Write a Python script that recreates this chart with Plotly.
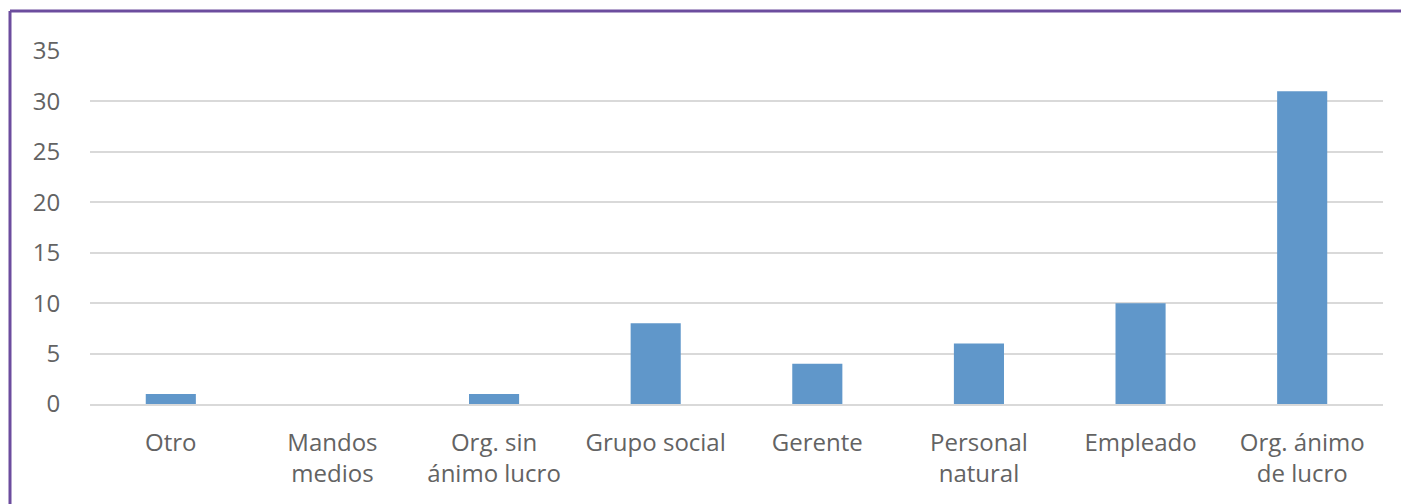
import plotly.graph_objects as go

categories = ["Otro", "Mandos<br>medios", "Org. sin<br>ánimo lucro", "Grupo social",
              "Gerente", "Personal<br>natural", "Empleado", "Org. ánimo<br>de lucro"]
values = [1, 0, 1, 8, 4, 6, 10, 31]
y_ticks = [0, 5, 10, 15, 20, 25, 30, 35]

# page body has an 8px margin; compensate so the plot lands where the reference has it
OFF = 8
W, H = 1409, 504
PL, PR, PT, PB = 90, 1383, 51, 404   # target plot area in page pixels
L = PL - OFF
T = PT - OFF
pw = PR - PL
ph = PB - PT
R = W - L - pw
B = H - T - ph

def px_x(x):
    return (x - PL) / pw

def px_y(y):
    return (PB - y) / ph

fig = go.Figure(go.Bar(x=categories, y=values, marker_color="#6097ca",
                       marker_line_width=0))

purple = "#6c4d9e"
fig.update_layout(
    width=W, height=H,
    margin=dict(l=L, r=R, t=T, b=B),
    paper_bgcolor="white", plot_bgcolor="white",
    bargap=0.69,
    showlegend=False,
    font=dict(family="Open Sans", size=24, color="#636363"),
    xaxis=dict(showgrid=False, showline=True, linecolor="#d9d9d9", linewidth=2,
               ticks="outside", ticklen=16, tickcolor="rgba(0,0,0,0)",
               tickfont=dict(size=24, color="#636363")),
    yaxis=dict(range=[0, 35], tickvals=y_ticks, showgrid=True,
               gridcolor="#d9d9d9", gridwidth=2, zeroline=False,
               ticks="outside", ticklen=24, tickcolor="rgba(0,0,0,0)",
               tickfont=dict(size=24, color="#636363")),
    shapes=[
        dict(type="line", xref="paper", yref="paper",
             x0=px_x(10), x1=px_x(10), y0=px_y(11), y1=px_y(530),
             line=dict(color=purple, width=3)),
        dict(type="line", xref="paper", yref="paper",
             x0=px_x(10), x1=px_x(1430), y0=px_y(11), y1=px_y(11),
             line=dict(color=purple, width=3)),
    ],
)

fig.write_html("out.html")
